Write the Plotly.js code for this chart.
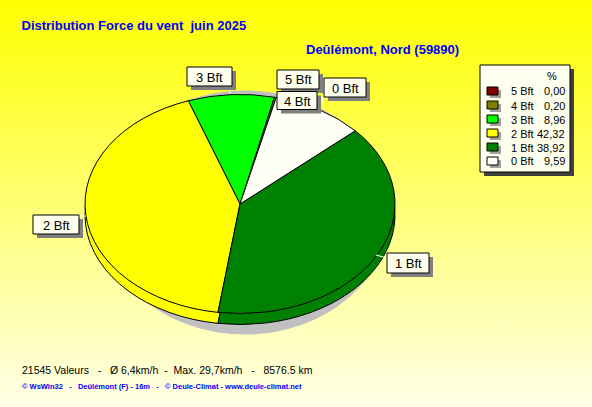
<!DOCTYPE html>
<html><head><meta charset="utf-8">
<script src="https://cdn.plot.ly/plotly-3.0.1.min.js"></script>
<style>
html,body{margin:0;padding:0;width:592px;height:407px;overflow:hidden;background:linear-gradient(to bottom,#FFFF00 0%,#FFFFE8 100%);}
#chart{width:592px;height:407px;}
</style></head><body><div id="chart"></div>
<script>
// ---- data ----
const categories = ['5 Bft','4 Bft','3 Bft','2 Bft','1 Bft','0 Bft'];
const percentages = [0.00, 0.20, 8.96, 42.32, 38.92, 9.59];
const percentLabels = ['0,00','0,20','8,96','42,32','38,92','9,59'];
const sliceColors = ['#800000','#808000','#00FF00','#FFFF00','#008000','#FFFFF6'];
const titleText = 'Distribution Force du vent  juin 2025';
const subtitleText = 'Deûlémont, Nord (59890)';
const statsText = '21545 Valeurs   -   Ø 6,4km/h  -  Max. 29,7km/h   -   8576.5 km';
const creditText = '© WsWin32   -   Deûlémont (F) - 16m   -   © Deule-Climat - www.deule-climat.net';

// ---- geometry (pixels) ----
const W = 592, H = 407;
const px = x => x / W, py = y => 1 - y / H;
const cx = 240, cy = 204, R = 155, RY = 109.5, depth = 11;
const s = RY / R;
const cyS = cy + depth / s;
const FONT = 'Liberation Sans, Arial, sans-serif';

function pieTrace(centerY) {
  return {
    type: 'pie', labels: categories, values: percentages, sort: false,
    direction: 'counterclockwise', rotation: 13.5,
    marker: {colors: sliceColors, line: {color: '#000000', width: 1}},
    textinfo: 'none', hoverinfo: 'skip', showlegend: false,
    domain: {x: [px(cx - R), px(cx + R)], y: [py(centerY + R), py(centerY - R)]}
  };
}
const data = [pieTrace(cyS), pieTrace(cy)];

const shapes = [];
const annotations = [];
function rect(x0, y0, x1, y1, fill, lineColor, layer) {
  shapes.push({type: 'rect', xref: 'paper', yref: 'paper', layer: layer || 'above',
    x0: px(x0), x1: px(x1), y0: py(y1), y1: py(y0), fillcolor: fill,
    line: lineColor ? {color: lineColor, width: 1} : {width: 0}});
}
function line(x0, y0, x1, y1, color) {
  shapes.push({type: 'line', xref: 'paper', yref: 'paper', layer: 'above',
    x0: px(x0), x1: px(x1), y0: py(y0), y1: py(y1), line: {color: color, width: 1}});
}
function text(t, x, y, opts) {
  annotations.push(Object.assign({text: t, xref: 'paper', yref: 'paper', x: px(x), y: py(y),
    xanchor: 'left', yanchor: 'middle', showarrow: false,
    font: {family: FONT, size: 12, color: '#000000'}}, opts || {}));
}

// pie shadow
shapes.push({type: 'circle', xref: 'paper', yref: 'paper', layer: 'below',
  x0: px(100), x1: px(390), y0: py(334.5), y1: py(90.5), fillcolor: '#C0C0C0', line: {width: 0}});

// leader lines
line(79, 216, 86, 216, '#FFFFFF');
line(376, 255, 387, 258, '#FFFFFF');
line(230, 86, 230, 94, '#FFFFFF');
line(324, 93, 321.5, 102.5, '#FFFFFF');

// slice labels (boxes)
const labelBoxes = {
  '3 Bft': [187, 67, 232, 86],
  '5 Bft': [277, 70, 319, 89],
  '4 Bft': [277, 91.5, 317, 109.5],
  '0 Bft': [324, 78, 366, 97],
  '2 Bft': [33, 215, 79, 234],
  '1 Bft': [387, 253, 429, 273]
};
categories.forEach(c => {
  const b = labelBoxes[c];
  rect(b[0] + 4, b[1] + 4, b[2] + 4, b[3] + 4, '#808080', null);
  rect(b[0], b[1], b[2], b[3], '#FFFFEE', '#000000');
  text(c, (b[0] + b[2]) / 2, (b[1] + b[3]) / 2 + 0.5, {xanchor: 'center', font: {family: FONT, size: 13, color: '#000000'}});
});

// legend box
rect(484, 69, 574, 176, '#404040', null);
rect(480, 65, 570, 172, '#FFFFEE', '#000000');
text('%', 552, 76, {xanchor: 'center', font: {family: FONT, size: 11, color: '#000000'}});
categories.forEach((c, i) => {
  const yc = 91 + 14 * i;
  rect(490, yc - 1, 501, yc + 7, '#A0A0A0', null);
  rect(487, yc - 4, 498, yc + 4, sliceColors[i], '#000000');
  text(c, 509, yc + 0.5, {font: {family: FONT, size: 11, color: '#000000'}});
  text(percentLabels[i], 567, yc + 0.5, {xanchor: 'right', font: {family: FONT, size: 11, color: '#000000'}});
});

// subtitle and footer
text('<b>' + subtitleText + '</b>', 304, 49.5, {font: {family: FONT, size: 13, color: '#0000FF'}});
text(statsText, 20, 369.5, {font: {family: FONT, size: 10.5, color: '#000000'}});
text('<b>' + creditText + '</b>', 20, 386, {font: {family: FONT, size: 7.5, color: '#0000FF'}});

const layout = {
  width: W, height: H, autosize: false,
  margin: {l: 0, r: 0, t: 0, b: 0, pad: 0},
  paper_bgcolor: 'rgba(0,0,0,0)', plot_bgcolor: 'rgba(0,0,0,0)',
  showlegend: false,
  title: {text: '<b>' + titleText + '</b>', x: px(21.5), xanchor: 'left', y: py(25), yanchor: 'middle',
    font: {family: FONT, size: 13, color: '#0000FF'}},
  shapes: shapes, annotations: annotations
};

const gd = document.getElementById('chart');
Plotly.newPlot(gd, data, layout, {staticPlot: true, displayModeBar: false, responsive: false}).then(() => {
  const pl = gd.querySelector('.pielayer');
  if (pl) {
    pl.setAttribute('transform', 'translate(0,' + (cy * (1 - s)) + ') scale(1,' + s + ')');
    pl.querySelectorAll('path').forEach(p => p.setAttribute('vector-effect', 'non-scaling-stroke'));
  }
});
</script></body></html>
